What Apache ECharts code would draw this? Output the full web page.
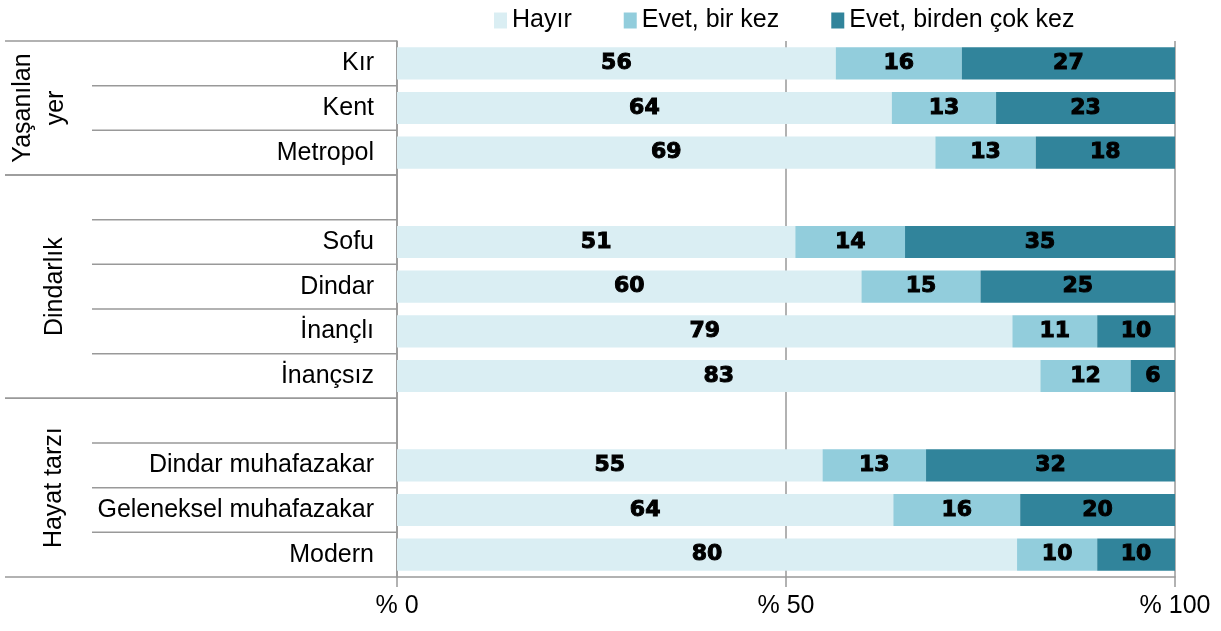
<!DOCTYPE html>
<html>
<head>
<meta charset="utf-8">
<script src="https://cdn.jsdelivr.net/npm/echarts@6/dist/echarts.min.js"></script>
<style>
html,body{margin:0;padding:0;background:#fff;}
#c{width:1221px;height:631px;}
</style>
</head>
<body>
<div id="c"></div>
<script>
// ---- data ----
const categories = ['Kır', 'Kent', 'Metropol', ' ', 'Sofu', 'Dindar', 'İnançlı', 'İnançsız', '  ', 'Dindar muhafazakar', 'Geleneksel muhafazakar', 'Modern'];
const seriesNames = ['Hayır', 'Evet, bir kez', 'Evet, birden çok kez'];
const hayir   = [56.4, 63.6, 69.2, null, 51.2, 59.7, 79.1, 82.7, null, 54.7, 63.8, 79.7];
const birKez  = [16.2, 13.4, 12.9, null, 14.1, 15.3, 10.9, 11.6, null, 13.3, 16.3, 10.3];
const cokKez  = [27.4, 23.0, 17.9, null, 34.7, 25.0, 10.0, 5.7, null, 32.0, 19.9, 10.0];
const xTicks = [0, 50, 100];
const groupNames  = ['Yaşanılan\nyer', 'Dindarlık', 'Hayat tarzı'];
const groupStarts = [0, 3, 8];
const groupEnds   = [2, 7, 11];

const colors = ['#DAEEF3', '#92CDDC', '#31849B'];
const gray = '#999999';
const FONT = 'Liberation Sans, Arial, sans-serif';
const FS = 25;

const chart = echarts.init(document.getElementById('c'));

const labelStyle = {
  show: true,
  position: 'inside',
  color: '#000',
  fontFamily: 'DejaVu Sans',
  fontWeight: 'bold',
  fontSize: 22,
  textBorderColor: '#000',
  textBorderWidth: 1,
  formatter: p => (p.value == null ? '' : Math.round(p.value))
};

const option = {
  animation: false,
  color: colors,
  legend: {
    data: seriesNames,
    left: 494,
    top: 8,
    padding: 0,
    icon: 'rect',
    itemWidth: 13,
    itemHeight: 16,
    itemGap: 52,
    textStyle: { fontSize: FS, color: '#000', fontFamily: FONT }
  },
  grid: { left: 397, right: 46, top: 41, bottom: 54, containLabel: false, outerBoundsMode: 'none' },
  xAxis: {
    type: 'value',
    min: xTicks[0],
    max: xTicks[xTicks.length - 1],
    interval: xTicks[1] - xTicks[0],
    axisLine: { show: true, lineStyle: { color: gray, width: 1.5 } },
    axisTick: { show: true, length: 10, lineStyle: { color: gray, width: 1.5 } },
    splitLine: { show: true, lineStyle: { color: gray, width: 1.5 } },
    axisLabel: { formatter: '% {value}', fontSize: FS, color: '#000', fontFamily: FONT, margin: 17 }
  },
  yAxis: {
    type: 'category',
    inverse: true,
    data: categories,
    axisLine: { show: true, lineStyle: { color: gray, width: 1.5 } },
    axisTick: { show: false },
    splitLine: { show: false },
    axisLabel: { fontSize: FS, color: '#000', fontFamily: FONT, margin: 23 }
  },
  series: [
    { name: seriesNames[0], type: 'bar', stack: 't', data: hayir, barWidth: '72%', label: labelStyle, itemStyle: { color: colors[0] } },
    { name: seriesNames[1], type: 'bar', stack: 't', data: birKez, barWidth: '72%', label: labelStyle, itemStyle: { color: colors[1] } },
    { name: seriesNames[2], type: 'bar', stack: 't', data: cokKez, barWidth: '72%', label: labelStyle, itemStyle: { color: colors[2] } }
  ]
};
chart.setOption(option);

// ---- table-like group decoration, positioned from the axis scale ----
const axisX = chart.convertToPixel({ xAxisIndex: 0 }, 0);
const c0 = chart.convertToPixel({ yAxisIndex: 0 }, 0);
const c1 = chart.convertToPixel({ yAxisIndex: 0 }, 1);
const band = c1 - c0;
const edgeTop = i => chart.convertToPixel({ yAxisIndex: 0 }, i) - band / 2;
const edgeBottom = i => chart.convertToPixel({ yAxisIndex: 0 }, i) + band / 2;

const graphics = [];
const lineStyle = { stroke: gray, lineWidth: 1.5 };
const fullLeft = 5, innerLeft = 92;
const labelX = [40, 55, 54];

groupNames.forEach((name, g) => {
  const top = edgeTop(groupStarts[g]);
  const bottom = edgeBottom(groupEnds[g]);
  graphics.push({ type: 'line', shape: { x1: fullLeft, y1: top, x2: axisX, y2: top }, style: lineStyle, z: 10 });
  graphics.push({ type: 'line', shape: { x1: fullLeft, y1: bottom, x2: axisX, y2: bottom }, style: lineStyle, z: 10 });
  for (let i = groupStarts[g]; i < groupEnds[g]; i++) {
    const y = edgeBottom(i);
    graphics.push({ type: 'line', shape: { x1: innerLeft, y1: y, x2: axisX, y2: y }, style: lineStyle, z: 10 });
  }
  graphics.push({
    type: 'text',
    x: labelX[g],
    y: (top + bottom) / 2,
    rotation: Math.PI / 2,
    style: {
      text: name,
      fontSize: FS,
      fontFamily: FONT,
      fill: '#000',
      align: 'center',
      verticalAlign: 'middle',
      lineHeight: 33
    },
    z: 10
  });
});

chart.setOption({ graphic: graphics });
</script>
</body>
</html>
